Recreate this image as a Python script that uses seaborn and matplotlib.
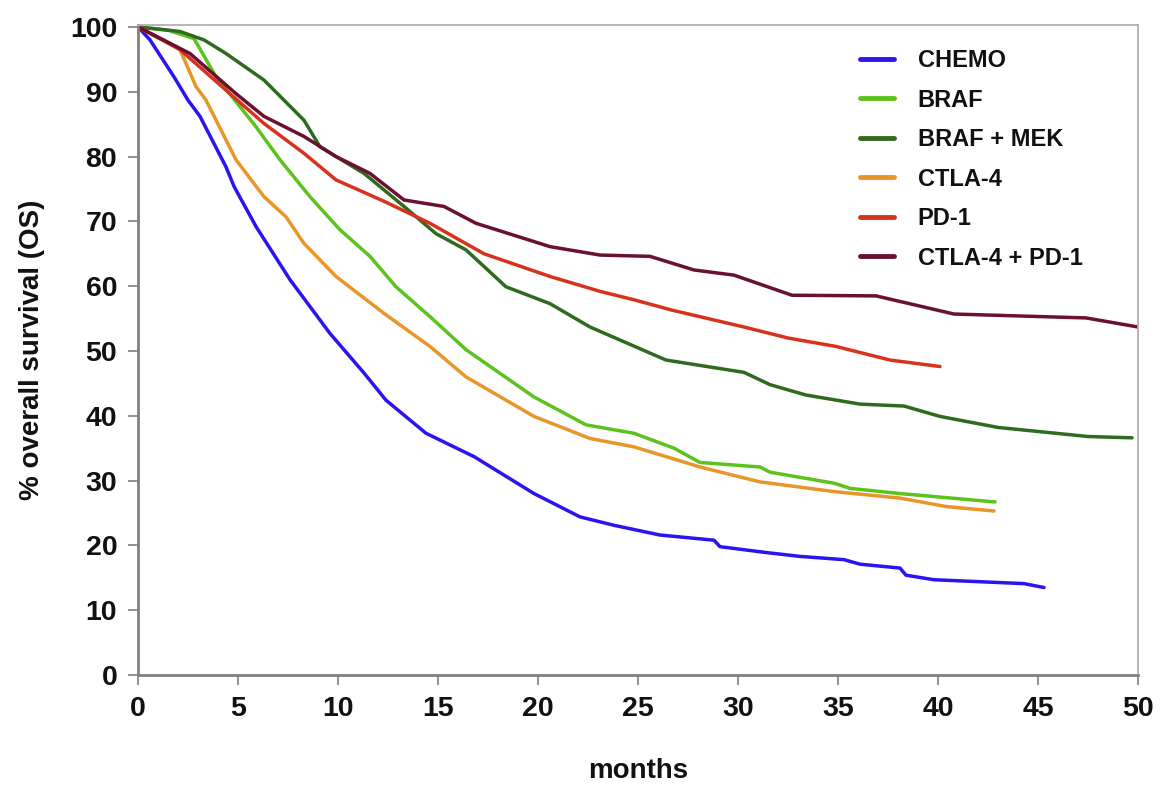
import matplotlib
matplotlib.use("Agg")
import matplotlib.pyplot as plt
import seaborn as sns
import pandas as pd

# ---- data ----
series_names = ["CHEMO", "BRAF", "BRAF + MEK", "CTLA-4", "PD-1", "CTLA-4 + PD-1"]

chemo_x = [0, 0.6, 1.8, 2.5, 3.1, 4.4, 4.8, 5.9, 7.6, 9.6, 11.3, 12.4, 14.4, 16.8, 19.8,
           22.1, 23.8, 26.1, 28.8, 29.1, 31.4, 33.1, 35.3, 36.1, 38.1, 38.4, 39.8, 44.3, 45.3]
chemo_y = [100, 98, 92.3, 88.7, 86.2, 78.4, 75.4, 69.2, 61.0, 52.7, 46.6, 42.4, 37.3, 33.7, 28.0,
           24.4, 23.1, 21.6, 20.8, 19.8, 18.9, 18.3, 17.8, 17.1, 16.5, 15.4, 14.7, 14.1, 13.5]

braf_x = [0, 1.5, 2.8, 3.9, 5.85, 7.1, 8.6, 10.1, 11.6, 12.9, 14.6, 16.4, 19.8, 22.4, 24.8,
          26.8, 28.1, 31.1, 31.6, 33.1, 34.8, 35.6, 38.1, 42.85]
braf_y = [100, 99.5, 98.2, 92.3, 84.8, 79.5, 73.8, 68.7, 64.6, 59.9, 55.3, 50.2, 42.9, 38.6, 37.3,
          35.0, 32.8, 32.1, 31.3, 30.5, 29.6, 28.8, 28.0, 26.7]

brafmek_x = [0, 2.1, 3.3, 4.4, 6.3, 8.3, 9.1, 11.3, 13.3, 14.9, 16.4, 18.4, 20.6, 22.6, 26.4,
             30.3, 31.6, 33.4, 36.1, 38.3, 40.1, 43.0, 47.5, 49.7]
brafmek_y = [100, 99.3, 98.0, 95.9, 91.8, 85.6, 81.5, 77.4, 72.3, 68.1, 65.6, 59.9, 57.3, 53.7, 48.6,
             46.7, 44.8, 43.2, 41.8, 41.5, 39.9, 38.2, 36.8, 36.6]

ctla4_x = [0, 1.6, 2.1, 2.9, 3.4, 4.9, 6.3, 7.4, 8.3, 9.9, 12.3, 14.6, 16.4, 19.8, 22.6,
           24.8, 28.1, 31.1, 34.8, 38.1, 40.4, 42.8]
ctla4_y = [100, 97.4, 96.5, 90.8, 88.7, 79.5, 73.8, 70.7, 66.6, 61.5, 55.8, 50.7, 46.0, 39.9, 36.5,
           35.2, 32.1, 29.8, 28.3, 27.3, 26.0, 25.3]

pd1_x = [0, 2.1, 4.6, 6.3, 8.3, 9.9, 12.3, 14.6, 17.3, 20.6, 23.1, 24.8, 26.7, 30.3, 32.5,
         34.9, 37.6, 40.1]
pd1_y = [100, 96.5, 89.7, 85.1, 80.5, 76.4, 73.1, 69.7, 65.0, 61.5, 59.2, 57.9, 56.3, 53.7, 52.0,
         50.7, 48.6, 47.6]

combo_x = [0, 2.6, 4.9, 6.3, 8.3, 9.9, 11.6, 13.3, 15.3, 16.9, 20.6, 23.1, 25.6, 27.8, 29.8,
           32.7, 36.9, 40.8, 47.4, 50]
combo_y = [100, 95.9, 89.7, 86.2, 83.1, 80.0, 77.4, 73.3, 72.3, 69.7, 66.1, 64.8, 64.6, 62.5, 61.7,
           58.6, 58.5, 55.7, 55.1, 53.7]

x_ticks = [0, 5, 10, 15, 20, 25, 30, 35, 40, 45, 50]
y_ticks = [0, 10, 20, 30, 40, 50, 60, 70, 80, 90, 100]

colors = ["#2a14f0", "#5cc21e", "#2f6a1e", "#e8962a", "#d8321e", "#6a1030"]

# ---- build long table ----
frames = []
for name, xs, ys in zip(series_names,
                        [chemo_x, braf_x, brafmek_x, ctla4_x, pd1_x, combo_x],
                        [chemo_y, braf_y, brafmek_y, ctla4_y, pd1_y, combo_y]):
    frames.append(pd.DataFrame({"months": xs, "os": ys, "arm": name}))
df = pd.concat(frames, ignore_index=True)

sns.set_theme(style="white")
plt.rcParams["font.family"] = ["Liberation Sans", "DejaVu Sans"]

fig = plt.figure(figsize=(11.61, 7.87), dpi=100)
ax = fig.add_axes([138 / 1161, 1 - 675 / 787, 1000 / 1161, 650 / 787])

sns.lineplot(data=df, x="months", y="os", hue="arm", hue_order=series_names,
             palette=colors, linewidth=2.5, sort=False, estimator=None, ax=ax)

ax.set_xlim(0, 50)
ax.set_ylim(0, 100.3)
ax.set_xticks(x_ticks)
ax.set_yticks(y_ticks)
ax.tick_params(axis="both", which="major", direction="out", length=7, width=1.3,
               color="#888888", labelsize=20.5, pad=8, left=True, bottom=True)
for lab in ax.get_xticklabels() + ax.get_yticklabels():
    lab.set_fontweight("bold")
    lab.set_color("#111111")

for side in ["left", "bottom"]:
    ax.spines[side].set_color("#808080")
    ax.spines[side].set_linewidth(2.0)
for side in ["top", "right"]:
    ax.spines[side].set_color("#b0b0b0")
    ax.spines[side].set_linewidth(1.3)

ax.set_xlabel("months", fontsize=20, fontweight="bold", color="#111111", labelpad=26)
ax.set_ylabel("% overall survival (OS)", fontsize=20, fontweight="bold", color="#111111",
              labelpad=18)

leg = ax.legend(loc="upper left", bbox_to_anchor=(860 / 1161, 1 - 49 / 787),
                bbox_transform=fig.transFigure, frameon=False, fontsize=17,
                handlelength=1.45, handletextpad=1.0, labelspacing=0.70,
                borderpad=0, borderaxespad=0)
for t in leg.get_texts():
    t.set_fontweight("bold")
    t.set_color("#111111")
for h in leg.get_lines():
    h.set_linewidth(3.5)

fig.savefig("out.png", dpi=100)
